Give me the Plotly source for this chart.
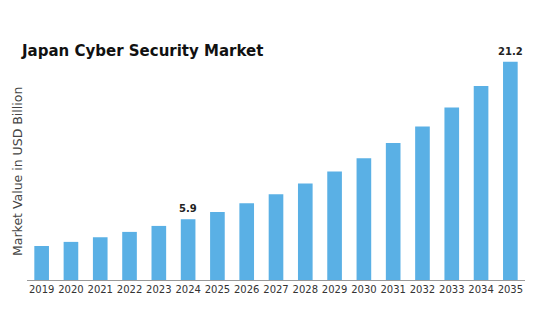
import plotly.graph_objects as go

years = [str(y) for y in range(2019, 2036)]
values = [3.3, 3.7, 4.15, 4.67, 5.25, 5.9, 6.6, 7.45, 8.33, 9.36, 10.53, 11.83, 13.29, 14.9, 16.75, 18.83, 21.2]
labeled_years = ["2024", "2035"]

FONT = "DejaVu Sans"

fig = go.Figure(go.Bar(
    x=years, y=values,
    marker=dict(color="#5AB0E5", line=dict(width=0)),
    width=0.5, hoverinfo="x+y",
))

for i, (y, v) in enumerate(zip(years, values)):
    if y in labeled_years:
        fig.add_annotation(
            x=i, y=v, xref="x", yref="y", text=f"<b>{v:g}</b>", showarrow=False,
            yanchor="bottom", yshift=3,
            font=dict(family=FONT, size=10, color="#222222"),
        )

fig.add_annotation(
    text="Market Value in USD Billion", textangle=-90,
    xref="paper", yref="paper", x=(17-27)/498, y=(280-172)/240,
    xanchor="center", yanchor="middle", showarrow=False,
    font=dict(family=FONT, size=12.5, color="#444444"),
)

fig.update_layout(
    width=544, height=331,
    margin=dict(l=27, r=19, t=40, b=51),
    paper_bgcolor="white", plot_bgcolor="white",
    showlegend=False,
    title=dict(
        text="<b>Japan Cyber Security Market</b>",
        x=22/544, xanchor="left", xref="container",
        y=1-51/331, yanchor="middle", yref="container",
        font=dict(family=FONT, size=15, color="#111111"),
    ),
    xaxis=dict(
        type="category", range=[-0.5, 16.5],
        showline=True, linecolor="#999999", linewidth=1,
        ticks="", showgrid=False,
        tickfont=dict(family=FONT, size=10, color="#333333"),
    ),
    yaxis=dict(
        range=[0, 23.3], showticklabels=False, showgrid=False, zeroline=False,
        showline=False,
    ),
)

fig.write_html("out.html")
